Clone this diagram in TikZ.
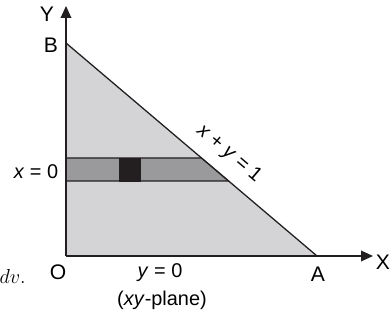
\documentclass[tikz,border=0pt]{standalone}
\usepackage{fontspec}
\setmainfont{Liberation Sans}
\usetikzlibrary{arrows.meta,positioning,calc}
\definecolor{regiongray}{HTML}{D4D4D6}
\definecolor{stripgray}{HTML}{9A9A9C}
\definecolor{elementblack}{HTML}{231F20}
\tikzset{
  axisline/.style={-{Triangle[length=3.6mm,width=3.2mm]},line width=1.1pt,draw=elementblack},
  edgeline/.style={line width=1.1pt,draw=elementblack},
  axislabel/.style={font=\fontsize{18}{21}\selectfont,inner sep=0pt},
  eqlabel/.style={font=\fontsize{17}{20}\selectfont,inner sep=0pt}
}
\begin{document}
\begin{tikzpicture}[x=0.3mm,y=0.3mm,
  stripbox/.style={fill=stripgray,draw=elementblack,line width=0.9pt},
  elementbox/.style={fill=elementblack,draw=elementblack}
]
  \useasboundingbox (0,0) rectangle (390,322);
  \coordinate (origin) at (66,66);
  \coordinate (pointA) at (317,66);
  \coordinate (pointB) at (66,279);
  \coordinate (xtip) at (373,66);
  \coordinate (ytip) at (66,316);
  % region and strip
  \fill[regiongray] (origin)--(pointA)--(pointB)--cycle;
  \draw[stripbox] (66,164)--(201.5,164)--(228.6,141)--(66,141)--cycle;
  \draw[elementbox] (119,141) rectangle (140,164);
  \draw[edgeline] (pointB)--(pointA);
  \draw[axisline] (origin)--(xtip);
  \draw[axisline] (origin)--(ytip);

  \node[axislabel] (ylabel) at (47,308) {Y};
  \node[axislabel] (blabel) at (51,277) {B};
  \node[axislabel] (xlabel) at (383,60) {X};
  \node[axislabel] (alabel) at (318,48) {A};
  \node[axislabel] (olabel) at (58,50) {O};
  \node[eqlabel] (xzero) at (36,150) {\textit{x} = 0};
  \node[eqlabel] (yzero) at (160,49) {\textit{y} = 0};
  \node[eqlabel] (plane) at (162,22) {(\textit{xy}-plane)};
  \node[eqlabel,rotate=-40.3] (hyplabel) at (229,168) {\textit{x} + \textit{y} = 1};
  \node[eqlabel,font=\fontsize{19}{22}\selectfont\rmfamily,anchor=east] (dvtext) at (26,46) {$dv.$};
\end{tikzpicture}
\end{document}
